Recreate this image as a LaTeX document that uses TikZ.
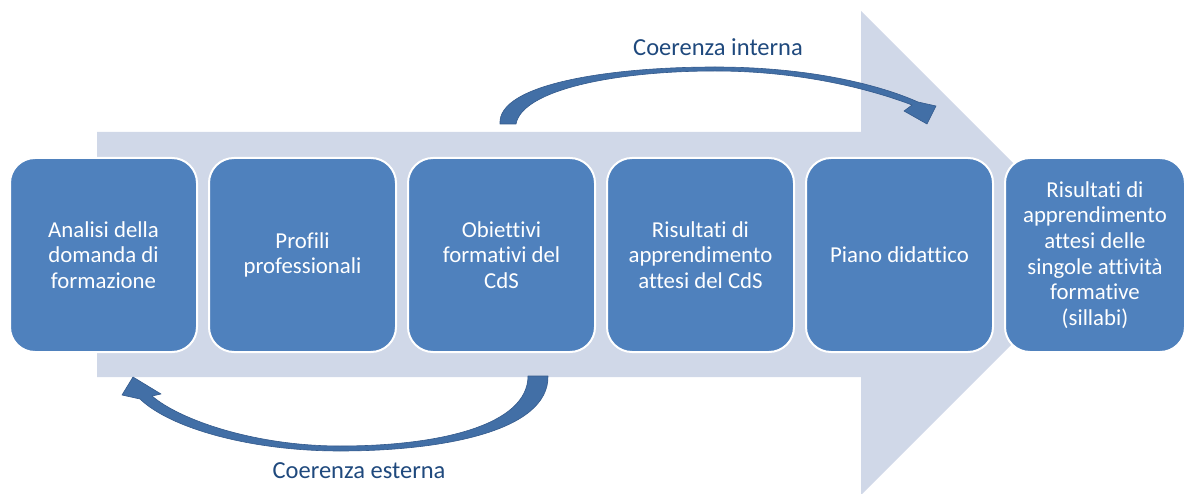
\documentclass[tikz,border=0pt]{standalone}
\usepackage{fontspec}
\setmainfont[Ligatures = NoCommon]{Carlito}
\usepackage{tikz}
\definecolor{boxBlue}{RGB}{79,129,189}
\definecolor{bandBlue}{RGB}{208,216,232}
\definecolor{arcBlue}{RGB}{66,111,166}
\definecolor{arcEdge}{RGB}{52,90,140}
\definecolor{labelBlue}{RGB}{31,73,125}
\tikzstyle{stageBox}=[shape = rectangle, rounded corners = 25pt, minimum width = 187pt, minimum height = 194pt, inner sep = 2pt, draw = white, line width = 2pt, fill = boxBlue, text = white, align = center, font = \fontsize{22.8}{25.6}\selectfont]
\tikzstyle{arcLabel}=[text = labelBlue, font = \fontsize{24.5}{28}\selectfont]

\begin{document}
\begin{tikzpicture}[x = 1pt, y = -1pt]
\tikzstyle{arcArrow} = [fill = arcBlue, draw = arcEdge, line width = 0.6pt, line join = round]
\useasboundingbox (0,0) rectangle (1186,494);
% wide background arrow
\fill[bandBlue] (97,132) -- (861,132) -- (861,11) -- (1103,253) -- (861,495)
  -- (861,377) -- (97,377) -- cycle;
% stages
\node[stageBox] (s0) at (103.5,255) {Analisi della\\domanda di\\formazione};
\node[stageBox] (s1) at (302.5,255) {Profili\\professionali};
\node[stageBox] (s2) at (501.5,255) {Obiettivi\\formativi del\\CdS};
\node[stageBox] (s3) at (700.5,255) {Risultati di\\apprendimento\\attesi del CdS};
\node[stageBox] (s4) at (899.5,255) {Piano didattico};
\node[stageBox, minimum width = 180pt] (s5) at (1095,255) {Risultati di\\apprendimento\\attesi delle\\singole attivit\`a\\formative\\(sillabi)};
% curved arrows
\path[arcArrow] (500,124) .. controls (497,84) and (610,67) .. (715,67)
  .. controls (810,67) and (880,85) .. (918,102) -- (936,106) -- (927,124)
  -- (904,111) -- (912,105) .. controls (870,89) and (800,71) .. (715,71)
  .. controls (615,71) and (522,90) .. (516,124) -- cycle;
\path[arcArrow] (548,376) .. controls (549,432) and (440,451) .. (340,451)
  .. controls (250,451) and (170,428) .. (140,399) -- (122,395) -- (133,377)
  -- (161,394) -- (152,396) .. controls (180,420) and (255,446) .. (340,446)
  .. controls (440,446) and (528,425) .. (528,376) -- cycle;
% labels
\node[arcLabel] (ci) at (718,47) {Coerenza interna};
\node[arcLabel] (ce) at (359,471) {Coerenza esterna};
\end{tikzpicture}
\end{document}
